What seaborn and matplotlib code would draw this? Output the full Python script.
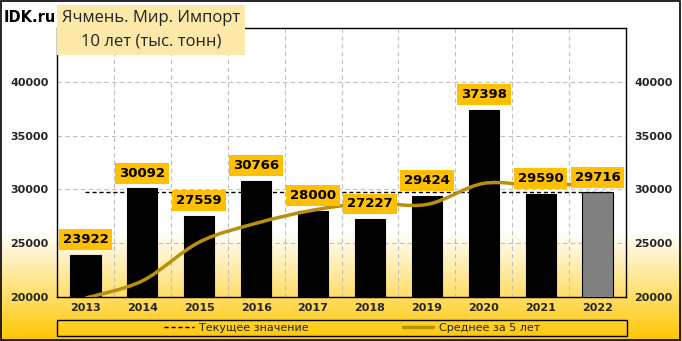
import numpy as np
import pandas as pd
import matplotlib
matplotlib.use("Agg")
import matplotlib.pyplot as plt
import seaborn as sns
from matplotlib.path import Path
from matplotlib.patches import PathPatch, Rectangle
from matplotlib.lines import Line2D

years = ["2013", "2014", "2015", "2016", "2017", "2018", "2019", "2020", "2021", "2022"]
values = [23922, 30092, 27559, 30766, 28000, 27227, 29424, 37398, 29590, 29716]
avg5 = [19900, 21500, 25100, 26850, 28070, 28730, 28600, 30560, 30330, 30670]
current = 29716
title_line1 = "Ячмень. Мир. Импорт"
title_line2 = "10 лет (тыс. тонн)"
legend_labels = ["Текущее значение", "Среднее за 5 лет"]
yticks = [20000, 25000, 30000, 35000, 40000]

sns.set_theme(style="white")
plt.rcParams['font.family'] = ['DejaVu Sans']

W, H = 682, 341
fig = plt.figure(figsize=(W / 100, H / 100), dpi=100)
fig.patch.set_facecolor("white")

# background gradient
bg = fig.add_axes([0, 0, 1, 1], zorder=-10)
bg.set_axis_off()
n = 341
t = np.linspace(0, 1, n)  # 0 top -> 1 bottom
start = 0.68
frac = np.clip((t - start) / (1 - start), 0, 1)
top_c = np.array([1.0, 1.0, 1.0])
bot_c = np.array([1.0, 0.78, 0.0])
grad = top_c[None, :] * (1 - frac[:, None]) + bot_c[None, :] * frac[:, None]
img = np.repeat(grad[:, None, :], 10, axis=1)
bg.imshow(img, aspect="auto", extent=[0, 1, 0, 1], origin="upper")
bg.set_xlim(0, 1)
bg.set_ylim(0, 1)
bg.add_patch(Rectangle((0.001, 0.002), 0.996, 0.995, fill=False, edgecolor="black", lw=1.2,
                       transform=bg.transAxes))

left, right = 57 / W, 626 / W
bottom, top = (H - 297) / H, (H - 28) / H
ax = fig.add_axes([left, bottom, right - left, top - bottom])
ax.patch.set_alpha(0)

df = pd.DataFrame({"year": years, "value": values})
df["kind"] = ["past"] * 9 + ["cur"]
sns.barplot(data=df, x="year", y="value", hue="kind", palette={"past": "black", "cur": "#808080"},
            width=0.53, dodge=False, legend=False, ax=ax, edgecolor="black", linewidth=0.8, zorder=3)

ax.set_ylim(20000, 45000)
ax.set_xlim(-0.5, 9.5)
ax.set_yticks(yticks)
ax.set_xlabel("")
ax.set_ylabel("")
for sp in ax.spines.values():
    sp.set_color("black")
    sp.set_linewidth(1.0)
    sp.set_visible(True)

# grid
for yv in yticks[1:]:
    ax.axhline(yv, color="#c0c0c0", lw=0.8, ls=(0, (4, 3)), zorder=1)
for xv in np.arange(0.5, 9.5, 1):
    ax.axvline(xv, color="#c0c0c0", lw=0.8, ls=(0, (4, 3)), zorder=1)

ax.tick_params(axis="both", length=0, labelsize=8, pad=4)
for lab in ax.get_xticklabels() + ax.get_yticklabels():
    lab.set_fontweight("bold")
ax.tick_params(axis="y", pad=6)

ax2 = ax.twinx()
ax2.set_ylim(ax.get_ylim())
ax2.set_yticks(yticks)
ax2.tick_params(axis="y", length=0, labelsize=8, pad=6)
for lab in ax2.get_yticklabels():
    lab.set_fontweight("bold")
ax2.grid(False)
for sp in ax2.spines.values():
    sp.set_visible(False)

# current value dashed line
ax.plot([0, 9.27], [current, current], color="black", lw=1.0, ls=(0, (3, 2)), zorder=4)

# smoothed 5-year average (bezier through points)
xs = np.arange(len(avg5), dtype=float)
ys = np.array(avg5, dtype=float)
verts = [(xs[0], ys[0])]
codes = [Path.MOVETO]
k = 1 / 6
for i in range(len(xs) - 1):
    p0 = (xs[max(i - 1, 0)], ys[max(i - 1, 0)])
    p1 = (xs[i], ys[i])
    p2 = (xs[i + 1], ys[i + 1])
    p3 = (xs[min(i + 2, len(xs) - 1)], ys[min(i + 2, len(xs) - 1)])
    c1 = (p1[0] + (p2[0] - p0[0]) * k, p1[1] + (p2[1] - p0[1]) * k)
    c2 = (p2[0] - (p3[0] - p1[0]) * k, p2[1] - (p3[1] - p1[1]) * k)
    verts += [c1, c2, p2]
    codes += [Path.CURVE4] * 3
ax.add_patch(PathPatch(Path(verts, codes), facecolor="none", edgecolor="#B8900A", lw=2.5, zorder=5))

# value labels
for i, v in enumerate(values):
    ax.annotate(f"{v}", xy=(i, v), xytext=(0, 11), textcoords="offset points",
                ha="center", va="center", fontsize=9.5, fontweight="bold", color="black", zorder=8,
                bbox=dict(boxstyle="square,pad=0.3", facecolor="#FFC000", edgecolor="none"))

# title box
fig.patches.append(Rectangle((57 / W, (H - 55) / H), (245 - 57) / W, 50 / H, transform=fig.transFigure,
                             facecolor="#FCE9A9", edgecolor="none", zorder=5))
fig.text(151 / W, (H - 18) / H, title_line1, ha="center", va="center", fontsize=12, color="#222222",
         family="Open Sans", zorder=6)
fig.text(151 / W, (H - 42) / H, title_line2, ha="center", va="center", fontsize=12, color="#222222",
         family="Open Sans", zorder=6)
fig.text(4 / W, (H - 17) / H, "IDK.ru", ha="left", va="center", fontsize=10.5, fontweight="bold",
         color="black", zorder=6)

# legend frame
fig.patches.append(Rectangle((57 / W, (H - 336) / H), (627 - 57) / W, 16 / H, transform=fig.transFigure,
                             facecolor="none", edgecolor="black", lw=1.0, zorder=5))
handles = [Line2D([], [], color="black", lw=1.0, ls=(0, (3, 2))),
           Line2D([], [], color="#B8900A", lw=2.5)]
leg = fig.legend(handles, legend_labels, ncol=2, loc="center",
                 bbox_to_anchor=(352 / W, (H - 328) / H),
                 frameon=False, fontsize=8, handlelength=2.7, handletextpad=0.5,
                 columnspacing=8.5, borderpad=0, borderaxespad=0)

fig.savefig("out.png", dpi=100)
